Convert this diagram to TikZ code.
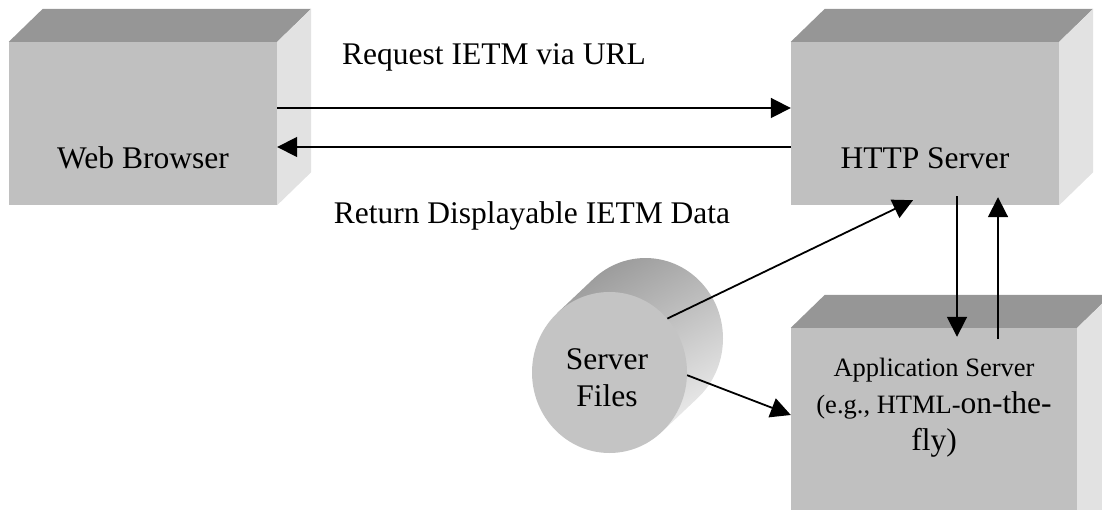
\documentclass[tikz,border=0pt]{standalone}
\usepackage{fontspec}
\setmainfont{Liberation Serif}
\usetikzlibrary{shapes.geometric,arrows.meta,calc}
\definecolor{frontc}{HTML}{C0C0C0}
\definecolor{topc}{HTML}{969696}
\definecolor{sidec}{HTML}{E2E2E2}
\definecolor{cylfront}{HTML}{C4C4C4}
\begin{document}
\begin{tikzpicture}[x=1pt,y=-1pt,
  face/.style={draw=none, fill=frontc, rectangle, inner sep=0pt},
  arr/.style={-{Triangle[length=20pt,width=20pt]}, line width=1.8pt},
  big/.style={font=\fontsize{31.5}{37}\selectfont},
  cyl/.style={ellipse, draw=none, fill=cylfront, minimum width=155pt, minimum height=161pt, inner sep=0pt}
]
\useasboundingbox (0,0) rectangle (1102,510);
\clip (0,0) rectangle (1102,510);

% ---- Web Browser box ----
\node[face, minimum width=268pt, minimum height=163pt] (wb) at (143,123.5) {};
\fill[topc] (wb.north west) -- ++(34,-33) -- ($(wb.north east)+(34,-33)$) -- (wb.north east) -- cycle;
\fill[sidec] (wb.north east) -- ++(34,-33) -- ($(wb.south east)+(34,-33)$) -- (wb.south east) -- cycle;
\node[big] (wbt) at (143,158) {Web Browser};

% ---- HTTP Server box ----
\node[face, minimum width=268pt, minimum height=163pt] (http) at (925,123.5) {};
\fill[topc] (http.north west) -- ++(34,-33) -- ($(http.north east)+(34,-33)$) -- (http.north east) -- cycle;
\fill[sidec] (http.north east) -- ++(34,-33) -- ($(http.south east)+(34,-33)$) -- (http.south east) -- cycle;
\node[big] (httpt) at (925,158) {HTTP Server};

% ---- Application Server box ----
\node[face, minimum width=286pt, minimum height=230pt] (app) at (934,443) {};
\fill[topc] (app.north west) -- ++(34,-33) -- ($(app.north east)+(34,-33)$) -- (app.north east) -- cycle;
\fill[sidec] (app.north east) -- ++(34,-33) -- ($(app.south east)+(34,-33)$) -- (app.south east) -- cycle;
\node[align=center, font=\fontsize{26.5}{37}\selectfont] (appt) at (934,408)
  {Application Server\\(e.g., HTML-{\fontsize{31.5}{37}\selectfont on-the-}\\{\fontsize{31.5}{35}\selectfont fly)}};

% ---- Server Files cylinder ----
\shade[left color=black!40, right color=black!8, shading angle=30]
  ($(609.5,372.5)+(52.15,59.55)$) -- ($(645.5,338.5)+(52.15,59.55)$)
  arc[start angle=47.7, end angle=-132.3, x radius=77.5, y radius=80.5]
  -- ($(609.5,372.5)+(-52.15,-59.55)$) -- cycle;
\node[cyl] (sf) at (609.5,372.5) {};
\node[big, align=center] (sft) at (607,378) {Server\\Files};

% ---- labels ----
\node[big] (req) at (494,57) {Request IETM via URL};
\node[big] (ret) at (532,216) {Return Displayable IETM Data};

% ---- connectors ----
\draw[arr] (wb.east |- 0,108) -- (http.west |- 0,108);
\draw[arr] (http.west |- 0,147) -- (wb.east |- 0,147);
\draw[arr] (sf.43) -- ($(http.south)+(-12,-5)$);
\draw[arr] (sf.-2) -- (app.west |- 0,415);
\draw[arr] ($(http.south)+(32,-9)$) -- ($(app.north)+(23,9)$);
\draw[arr] ($(app.north)+(64,11)$) -- ($(http.south)+(73,-8)$);
\end{tikzpicture}
\end{document}
